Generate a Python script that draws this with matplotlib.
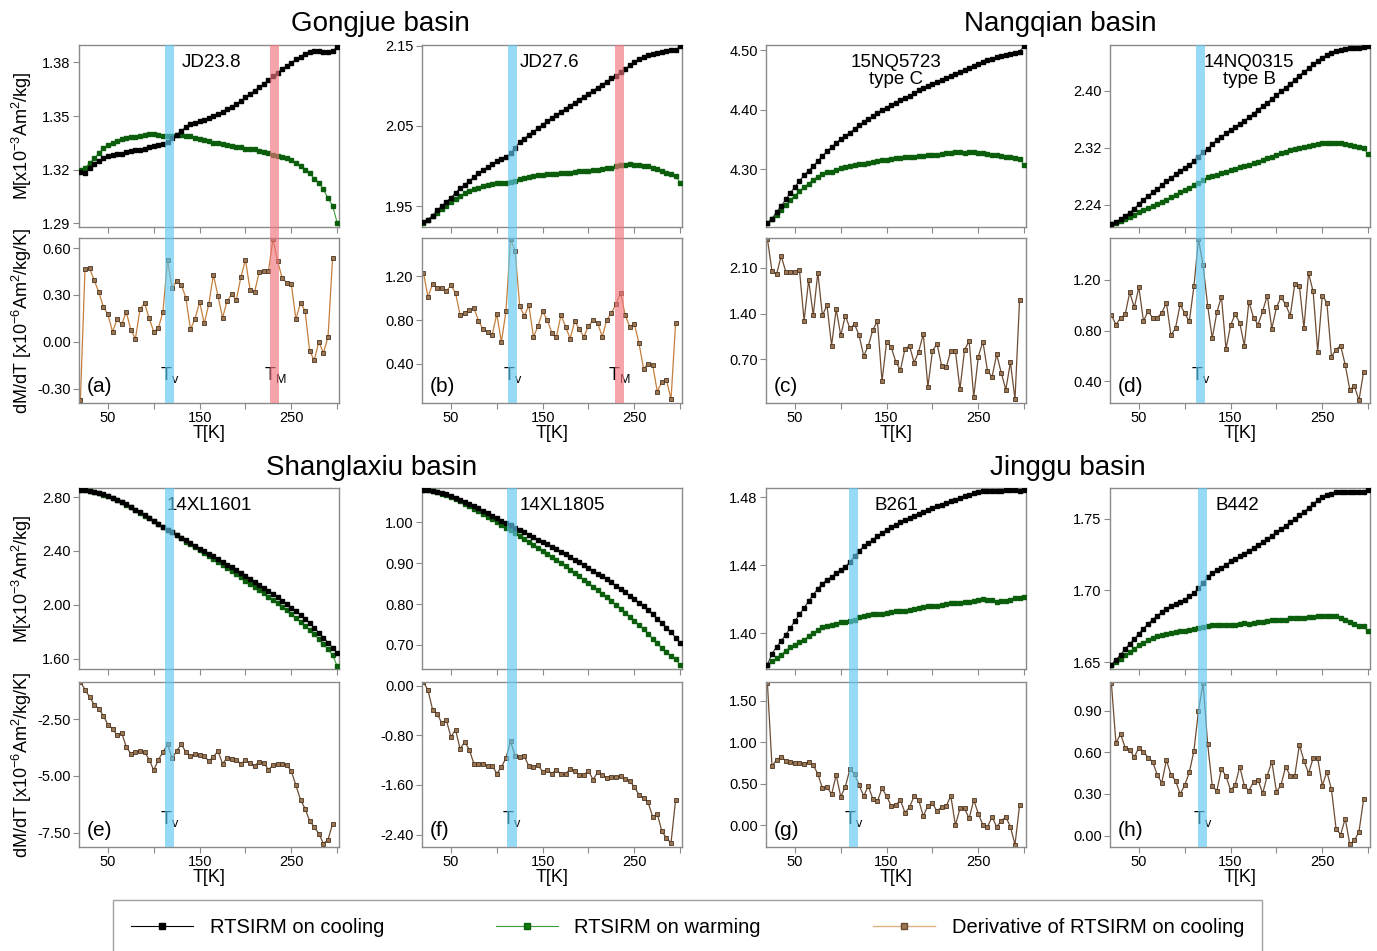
import numpy as np
import matplotlib
matplotlib.use('Agg')
import matplotlib.pyplot as plt
from matplotlib.lines import Line2D
from matplotlib.patches import Rectangle
from matplotlib import transforms
from matplotlib.ticker import FormatStrFormatter

plt.rcParams['font.family'] = ['Liberation Sans', 'DejaVu Sans']
plt.rcParams['mathtext.fontset'] = 'custom'
plt.rcParams['mathtext.rm'] = 'Liberation Sans'
plt.rcParams['mathtext.it'] = 'Liberation Sans:italic'

# temperature grids (K)
T = np.arange(20, 301, 5)
T_d = np.arange(20, 296, 5)

# ---- Gongjue basin ----
jd238_cool = [1.3190, 1.3180, 1.3207, 1.3230, 1.3250, 1.3265, 1.3278, 1.3282, 1.3286, 1.3290,
              1.3298, 1.3304, 1.3310, 1.3312, 1.3317, 1.3325, 1.3333, 1.3338, 1.3343, 1.3353,
              1.3375, 1.3395, 1.3415, 1.3440, 1.3453, 1.3462, 1.3470, 1.3478, 1.3487, 1.3498,
              1.3510, 1.3523, 1.3537, 1.3551, 1.3567, 1.3585, 1.3604, 1.3623, 1.3642, 1.3660,
              1.3679, 1.3700, 1.3722, 1.3742, 1.3761, 1.3780, 1.3798, 1.3816, 1.3832, 1.3848,
              1.3860, 1.3864, 1.3862, 1.3858, 1.3857, 1.3862, 1.3888]
jd238_warm = [1.3198, 1.3211, 1.3235, 1.3263, 1.3291, 1.3319, 1.3336, 1.3351, 1.3362, 1.3371,
              1.3379, 1.3381, 1.3384, 1.3388, 1.3394, 1.3397, 1.3397, 1.3394, 1.3390, 1.3386,
              1.3390, 1.3394, 1.3392, 1.3390, 1.3386, 1.3379, 1.3371, 1.3366, 1.3362, 1.3351,
              1.3347, 1.3343, 1.3340, 1.3332, 1.3329, 1.3325, 1.3316, 1.3316, 1.3314, 1.3306,
              1.3297, 1.3291, 1.3284, 1.3278, 1.3273, 1.3263, 1.3254, 1.3239, 1.3222, 1.3198,
              1.3179, 1.3151, 1.3127, 1.3090, 1.3040, 1.2999, 1.2904]
jd238_dmdt = [-0.370, 0.465, 0.470, 0.394, 0.319, 0.223, 0.176, 0.064, 0.144, 0.111,
              0.191, 0.075, 0.021, 0.208, 0.246, 0.150, 0.064, 0.088, 0.191, 0.523,
              0.343, 0.392, 0.362, 0.283, 0.079, 0.148, 0.255, 0.118, 0.240, 0.429,
              0.294, 0.154, 0.261, 0.304, 0.268, 0.414, 0.525, 0.332, 0.321, 0.446,
              0.450, 0.450, 0.658, 0.519, 0.407, 0.379, 0.369, 0.144, 0.251, 0.197,
              -0.060, -0.118, 0.000, -0.071, 0.030, 0.536]

jd276_cool = [1.9300, 1.9333, 1.9383, 1.9446, 1.9500, 1.9554, 1.9604, 1.9667, 1.9721, 1.9763,
              1.9813, 1.9863, 1.9908, 1.9950, 1.9988, 2.0021, 2.0058, 2.0083, 2.0117, 2.0158,
              2.0229, 2.0300, 2.0342, 2.0388, 2.0429, 2.0471, 2.0517, 2.0558, 2.0596, 2.0638,
              2.0675, 2.0717, 2.0754, 2.0792, 2.0829, 2.0867, 2.0904, 2.0942, 2.0979, 2.1017,
              2.1054, 2.1092, 2.1125, 2.1167, 2.1208, 2.1258, 2.1300, 2.1333, 2.1363, 2.1383,
              2.1396, 2.1408, 2.1417, 2.1429, 2.1446, 2.1450, 2.1492]
jd276_warm = [1.9292, 1.9333, 1.9375, 1.9417, 1.9467, 1.9508, 1.9554, 1.9592, 1.9625, 1.9658,
              1.9688, 1.9708, 1.9729, 1.9750, 1.9763, 1.9775, 1.9783, 1.9792, 1.9792, 1.9800,
              1.9817, 1.9833, 1.9854, 1.9867, 1.9875, 1.9883, 1.9892, 1.9896, 1.9900, 1.9904,
              1.9908, 1.9913, 1.9917, 1.9925, 1.9933, 1.9938, 1.9942, 1.9950, 1.9954, 1.9963,
              1.9971, 1.9979, 1.9996, 2.0008, 2.0017, 2.0021, 2.0013, 2.0008, 2.0004, 1.9996,
              1.9979, 1.9958, 1.9933, 1.9917, 1.9896, 1.9875, 1.9792]
jd276_dmdt = [1.234, 1.011, 1.132, 1.095, 1.098, 1.067, 1.117, 1.049, 0.845, 0.869,
              0.888, 0.910, 0.795, 0.715, 0.693, 0.663, 0.857, 0.598, 0.879, 1.543,
              1.432, 0.925, 0.839, 0.934, 0.644, 0.746, 0.879, 0.802, 0.684, 0.647,
              0.845, 0.740, 0.629, 0.789, 0.715, 0.647, 0.746, 0.798, 0.771, 0.647,
              0.802, 0.863, 0.947, 1.049, 0.845, 0.740, 0.764, 0.592, 0.354, 0.400,
              0.388, 0.144, 0.236, 0.252, 0.073, 0.774]

# ---- Nangqian basin ----
nq5723_cool = [4.2096, 4.2169, 4.2281, 4.2376, 4.2494, 4.2601, 4.2702, 4.2803, 4.2899, 4.2978,
               4.3051, 4.3140, 4.3225, 4.3303, 4.3371, 4.3438, 4.3511, 4.3562, 4.3612, 4.3680,
               4.3736, 4.3787, 4.3837, 4.3893, 4.3949, 4.4000, 4.4034, 4.4079, 4.4118, 4.4157,
               4.4191, 4.4230, 4.4275, 4.4326, 4.4371, 4.4399, 4.4438, 4.4472, 4.4506, 4.4539,
               4.4567, 4.4601, 4.4635, 4.4669, 4.4702, 4.4736, 4.4764, 4.4803, 4.4831, 4.4860,
               4.4882, 4.4904, 4.4921, 4.4938, 4.4961, 4.4978, 4.5073]
nq5723_warm = [4.2096, 4.2163, 4.2236, 4.2320, 4.2393, 4.2478, 4.2556, 4.2629, 4.2697, 4.2758,
               4.2826, 4.2871, 4.2916, 4.2949, 4.2961, 4.2983, 4.3028, 4.3045, 4.3062, 4.3079,
               4.3096, 4.3096, 4.3107, 4.3124, 4.3140, 4.3152, 4.3163, 4.3174, 4.3185, 4.3197,
               4.3208, 4.3208, 4.3213, 4.3219, 4.3230, 4.3242, 4.3242, 4.3247, 4.3258, 4.3270,
               4.3281, 4.3292, 4.3292, 4.3275, 4.3292, 4.3287, 4.3270, 4.3270, 4.3264, 4.3247,
               4.3236, 4.3219, 4.3208, 4.3213, 4.3191, 4.3174, 4.3073]
nq5723_dmdt = [2.543, 2.054, 2.002, 2.285, 2.043, 2.043, 2.043, 2.064, 1.292, 1.915,
               1.374, 2.028, 1.374, 1.529, 0.911, 1.472, 1.066, 1.369, 1.174, 1.240,
               1.066, 0.752, 0.906, 1.153, 1.282, 0.366, 0.968, 0.885, 0.664, 0.535,
               0.860, 0.906, 0.649, 0.818, 1.091, 0.278, 0.829, 0.937, 0.602, 0.577,
               0.834, 0.829, 0.242, 0.844, 0.983, 0.124, 0.741, 0.973, 0.520, 0.432,
               0.777, 0.494, 0.237, 0.654, 0.088, 1.616]

nq0315_cool = [2.2122, 2.2155, 2.2192, 2.2240, 2.2287, 2.2343, 2.2405, 2.2466, 2.2523, 2.2570,
               2.2617, 2.2674, 2.2726, 2.2773, 2.2825, 2.2877, 2.2914, 2.2962, 2.3009, 2.3075,
               2.3141, 2.3183, 2.3250, 2.3306, 2.3353, 2.3401, 2.3453, 2.3490, 2.3533, 2.3580,
               2.3627, 2.3679, 2.3736, 2.3783, 2.3830, 2.3887, 2.3939, 2.3995, 2.4047, 2.4099,
               2.4156, 2.4217, 2.4269, 2.4321, 2.4373, 2.4420, 2.4467, 2.4505, 2.4538, 2.4562,
               2.4581, 2.4590, 2.4600, 2.4604, 2.4609, 2.4614, 2.4632]
nq0315_warm = [2.2122, 2.2145, 2.2173, 2.2202, 2.2225, 2.2258, 2.2291, 2.2320, 2.2353, 2.2381,
               2.2409, 2.2438, 2.2471, 2.2504, 2.2537, 2.2570, 2.2603, 2.2636, 2.2669, 2.2707,
               2.2745, 2.2782, 2.2801, 2.2820, 2.2839, 2.2858, 2.2881, 2.2900, 2.2924, 2.2943,
               2.2962, 2.2981, 2.3004, 2.3028, 2.3051, 2.3075, 2.3103, 2.3122, 2.3146, 2.3169,
               2.3188, 2.3202, 2.3212, 2.3231, 2.3240, 2.3254, 2.3268, 2.3273, 2.3273, 2.3273,
               2.3268, 2.3254, 2.3240, 2.3226, 2.3217, 2.3193, 2.3113]
nq0315_dmdt = [0.921, 0.847, 0.897, 0.926, 1.099, 0.982, 1.139, 0.873, 0.953, 0.900,
               0.900, 0.940, 1.019, 0.761, 0.820, 1.006, 0.934, 0.873, 1.147, 1.519,
               1.312, 0.995, 0.740, 0.942, 1.067, 0.655, 0.841, 0.929, 0.860, 0.682,
               1.027, 0.900, 0.847, 0.953, 1.075, 0.815, 0.982, 1.062, 1.006, 0.916,
               1.165, 1.152, 0.820, 1.253, 1.107, 0.634, 1.075, 1.019, 0.594, 0.650,
               0.682, 0.530, 0.336, 0.363, 0.251, 0.474]

# ---- Shanglaxiu basin ----
xl1601_cool = [2.855, 2.852, 2.847, 2.840, 2.830, 2.820, 2.807, 2.793, 2.778, 2.763,
               2.745, 2.728, 2.706, 2.686, 2.666, 2.646, 2.624, 2.602, 2.579, 2.559,
               2.540, 2.517, 2.498, 2.478, 2.458, 2.438, 2.418, 2.398, 2.379, 2.359,
               2.339, 2.319, 2.299, 2.279, 2.259, 2.237, 2.217, 2.195, 2.173, 2.150,
               2.128, 2.106, 2.081, 2.056, 2.031, 2.007, 1.979, 1.952, 1.922, 1.893,
               1.863, 1.828, 1.793, 1.756, 1.719, 1.682, 1.640]
xl1601_warm = [2.855, 2.852, 2.847, 2.840, 2.830, 2.819, 2.805, 2.791, 2.776, 2.760,
               2.742, 2.725, 2.703, 2.683, 2.663, 2.643, 2.621, 2.599, 2.576, 2.556,
               2.537, 2.515, 2.493, 2.470, 2.450, 2.428, 2.406, 2.383, 2.361, 2.339,
               2.317, 2.294, 2.272, 2.250, 2.228, 2.205, 2.180, 2.158, 2.133, 2.111,
               2.086, 2.061, 2.036, 2.012, 1.987, 1.959, 1.932, 1.905, 1.875, 1.845,
               1.813, 1.781, 1.746, 1.709, 1.669, 1.627, 1.545]
xl1601_dmdt = [-0.853, -1.190, -1.515, -1.853, -2.030, -2.338, -2.735, -2.912, -3.206, -3.088,
               -3.720, -4.015, -3.941, -3.912, -3.941, -4.279, -4.750, -4.279, -3.956, -3.603,
               -4.206, -3.897, -3.603, -3.941, -4.132, -4.044, -4.088, -4.132, -4.338, -4.162,
               -3.897, -4.456, -4.206, -4.235, -4.309, -4.456, -4.309, -4.426, -4.559, -4.368,
               -4.426, -4.721, -4.529, -4.456, -4.485, -4.500, -4.794, -5.412, -6.044, -6.441,
               -6.985, -7.250, -7.544, -7.985, -7.809, -7.103]

xl1805_cool = [1.0800, 1.0790, 1.0774, 1.0750, 1.0717, 1.0685, 1.0644, 1.0603, 1.0554, 1.0505,
               1.0456, 1.0399, 1.0342, 1.0285, 1.0228, 1.0163, 1.0098, 1.0041, 0.9984, 0.9927,
               0.9870, 0.9813, 0.9756, 0.9698, 0.9641, 0.9576, 0.9519, 0.9462, 0.9405, 0.9340,
               0.9283, 0.9218, 0.9153, 0.9087, 0.9022, 0.8957, 0.8883, 0.8818, 0.8745, 0.8680,
               0.8606, 0.8533, 0.8451, 0.8370, 0.8289, 0.8207, 0.8126, 0.8036, 0.7946, 0.7848,
               0.7751, 0.7645, 0.7539, 0.7425, 0.7310, 0.7181, 0.7050]
xl1805_warm = [1.0800, 1.0790, 1.0766, 1.0742, 1.0701, 1.0660, 1.0611, 1.0562, 1.0513, 1.0456,
               1.0399, 1.0334, 1.0269, 1.0204, 1.0139, 1.0073, 1.0000, 0.9935, 0.9870, 0.9804,
               0.9739, 0.9674, 0.9601, 0.9527, 0.9454, 0.9381, 0.9307, 0.9234, 0.9161, 0.9079,
               0.9006, 0.8924, 0.8843, 0.8761, 0.8680, 0.8598, 0.8517, 0.8427, 0.8346, 0.8256,
               0.8166, 0.8077, 0.7979, 0.7890, 0.7791, 0.7694, 0.7596, 0.7490, 0.7384, 0.7270,
               0.7156, 0.7035, 0.6920, 0.6820, 0.6730, 0.6650, 0.6504]
xl1805_dmdt = [0.059, -0.075, -0.387, -0.456, -0.601, -0.558, -0.827, -0.709, -1.020, -0.907,
               -1.031, -1.256, -1.256, -1.256, -1.299, -1.289, -1.417, -1.315, -1.165, -0.897,
               -1.128, -1.154, -1.138, -1.299, -1.310, -1.283, -1.385, -1.353, -1.417, -1.353,
               -1.428, -1.423, -1.342, -1.374, -1.434, -1.434, -1.374, -1.514, -1.396, -1.434,
               -1.487, -1.471, -1.471, -1.460, -1.498, -1.536, -1.632, -1.756, -1.810, -1.879,
               -2.115, -2.067, -2.346, -2.454, -2.534, -1.836]

# ---- Jinggu basin ----
b261_cool = [1.3814, 1.3878, 1.3918, 1.3953, 1.3990, 1.4029, 1.4071, 1.4110, 1.4147, 1.4188,
             1.4225, 1.4261, 1.4290, 1.4314, 1.4331, 1.4351, 1.4373, 1.4390, 1.4418, 1.4451,
             1.4484, 1.4510, 1.4529, 1.4549, 1.4569, 1.4588, 1.4608, 1.4622, 1.4637, 1.4651,
             1.4663, 1.4676, 1.4690, 1.4700, 1.4710, 1.4722, 1.4733, 1.4745, 1.4755, 1.4765,
             1.4776, 1.4784, 1.4792, 1.4804, 1.4814, 1.4824, 1.4831, 1.4833, 1.4833, 1.4833,
             1.4835, 1.4837, 1.4839, 1.4843, 1.4843, 1.4833, 1.4843]
b261_warm = [1.3814, 1.3833, 1.3853, 1.3873, 1.3896, 1.3916, 1.3931, 1.3947, 1.3961, 1.3980,
             1.4000, 1.4016, 1.4033, 1.4043, 1.4049, 1.4055, 1.4063, 1.4063, 1.4069, 1.4078,
             1.4092, 1.4102, 1.4106, 1.4110, 1.4114, 1.4112, 1.4118, 1.4124, 1.4127, 1.4129,
             1.4131, 1.4133, 1.4141, 1.4147, 1.4153, 1.4157, 1.4161, 1.4161, 1.4163, 1.4173,
             1.4175, 1.4176, 1.4178, 1.4180, 1.4184, 1.4188, 1.4192, 1.4198, 1.4196, 1.4192,
             1.4184, 1.4190, 1.4190, 1.4196, 1.4204, 1.4208, 1.4212]
b261_dmdt = [1.714, 0.714, 0.786, 0.827, 0.778, 0.766, 0.746, 0.754, 0.738, 0.758,
             0.726, 0.617, 0.444, 0.464, 0.371, 0.605, 0.343, 0.464, 0.677, 0.617,
             0.484, 0.351, 0.472, 0.315, 0.290, 0.444, 0.351, 0.230, 0.242, 0.302,
             0.153, 0.214, 0.355, 0.302, 0.109, 0.234, 0.262, 0.169, 0.222, 0.230,
             0.355, 0.000, 0.202, 0.202, 0.081, 0.302, 0.141, 0.000, -0.020, 0.101,
             -0.020, 0.052, 0.101, -0.020, -0.234, 0.242]

b442_cool = [1.6481, 1.6516, 1.6551, 1.6591, 1.6628, 1.6660, 1.6698, 1.6733, 1.6767, 1.6795,
             1.6823, 1.6847, 1.6870, 1.6888, 1.6907, 1.6921, 1.6935, 1.6958, 1.6981, 1.7016,
             1.7051, 1.7093, 1.7121, 1.7140, 1.7158, 1.7179, 1.7202, 1.7219, 1.7237, 1.7256,
             1.7277, 1.7295, 1.7316, 1.7337, 1.7358, 1.7381, 1.7405, 1.7428, 1.7451, 1.7474,
             1.7498, 1.7523, 1.7549, 1.7574, 1.7602, 1.7628, 1.7651, 1.7665, 1.7674, 1.7684,
             1.7686, 1.7686, 1.7688, 1.7688, 1.7686, 1.7688, 1.7702]
b442_warm = [1.6477, 1.6498, 1.6523, 1.6547, 1.6570, 1.6593, 1.6616, 1.6635, 1.6653, 1.6667,
             1.6679, 1.6688, 1.6698, 1.6705, 1.6712, 1.6714, 1.6719, 1.6726, 1.6733, 1.6740,
             1.6744, 1.6749, 1.6756, 1.6756, 1.6756, 1.6758, 1.6760, 1.6760, 1.6767, 1.6772,
             1.6767, 1.6772, 1.6777, 1.6779, 1.6784, 1.6791, 1.6795, 1.6795, 1.6795, 1.6805,
             1.6807, 1.6805, 1.6809, 1.6814, 1.6814, 1.6819, 1.6823, 1.6823, 1.6823, 1.6823,
             1.6807, 1.6791, 1.6777, 1.6765, 1.6753, 1.6749, 1.6714]
b442_dmdt = [1.100, 0.666, 0.733, 0.635, 0.618, 0.565, 0.635, 0.606, 0.562, 0.533,
             0.437, 0.381, 0.545, 0.437, 0.396, 0.300, 0.364, 0.456, 0.610, 0.900,
             1.100, 0.659, 0.359, 0.321, 0.480, 0.429, 0.328, 0.364, 0.497, 0.359,
             0.323, 0.388, 0.400, 0.304, 0.432, 0.533, 0.316, 0.364, 0.497, 0.432,
             0.432, 0.654, 0.540, 0.449, 0.557, 0.557, 0.359, 0.461, 0.333, 0.051,
             0.007, 0.123, -0.063, -0.034, 0.027, 0.261]

# Verwey (blue) and Morin (red) transition bands, K
BLUE = '#5ec7f0'
RED = '#f0737b'

panels = [
    dict(name='JD23.8', cool=jd238_cool, warm=jd238_warm, dmdt=jd238_dmdt, letter='(a)',
         mlim=(1.288, 1.3897), mticks=[1.29, 1.32, 1.35, 1.38],
         dlim=(-0.392, 0.664), dticks=[-0.3, 0.0, 0.3, 0.6],
         bands=[(112.5, 122.5, BLUE, 'v'), (227, 237, RED, 'M')], dcol='#c47f3c', tx=0.51),
    dict(name='JD27.6', cool=jd276_cool, warm=jd276_warm, dmdt=jd276_dmdt, letter='(b)',
         mlim=(1.924, 2.151), mticks=[1.95, 2.05, 2.15],
         dlim=(0.039, 1.552), dticks=[0.4, 0.8, 1.2],
         bands=[(112, 122, BLUE, 'v'), (229, 239, RED, 'M')], dcol='#c47f3c', tx=0.49),
    dict(name='15NQ5723\ntype C', cool=nq5723_cool, warm=nq5723_warm, dmdt=nq5723_dmdt,
         letter='(c)', mlim=(4.2028, 4.509), mticks=[4.30, 4.40, 4.50],
         dlim=(0.031, 2.558), dticks=[0.7, 1.4, 2.1],
         bands=[], dcol='#6e4c32', tx=0.50),
    dict(name='14NQ0315\ntype B', cool=nq0315_cool, warm=nq0315_warm, dmdt=nq0315_dmdt,
         letter='(d)', mlim=(2.2084, 2.4647), mticks=[2.24, 2.32, 2.40],
         dlim=(0.23, 1.527), dticks=[0.4, 0.8, 1.2],
         bands=[(112, 122, BLUE, 'v')], dcol='#6e4c32', tx=0.535),
    dict(name='14XL1601', cool=xl1601_cool, warm=xl1601_warm, dmdt=xl1601_dmdt, letter='(e)',
         mlim=(1.523, 2.867), mticks=[1.6, 2.0, 2.4, 2.8],
         dlim=(-8.13, -0.853), dticks=[-7.5, -5.0, -2.5],
         bands=[(112, 122, BLUE, 'v')], dcol='#6e4c32', tx=0.50),
    dict(name='14XL1805', cool=xl1805_cool, warm=xl1805_warm, dmdt=xl1805_dmdt, letter='(f)',
         mlim=(0.641, 1.084), mticks=[0.7, 0.8, 0.9, 1.0],
         dlim=(-2.599, 0.059), dticks=[-2.4, -1.6, -0.8, 0.0],
         bands=[(111.5, 121.5, BLUE, 'v')], dcol='#6e4c32', tx=0.54),
    dict(name='B261', cool=b261_cool, warm=b261_warm, dmdt=b261_dmdt, letter='(g)',
         mlim=(1.3788, 1.4853), mticks=[1.40, 1.44, 1.48],
         dlim=(-0.262, 1.726), dticks=[0.0, 0.5, 1.0, 1.5],
         bands=[(109, 119, BLUE, 'v')], dcol='#6e4c32', tx=0.50),
    dict(name='B442', cool=b442_cool, warm=b442_warm, dmdt=b442_dmdt, letter='(h)',
         mlim=(1.6451, 1.7714), mticks=[1.65, 1.70, 1.75],
         dlim=(-0.082, 1.1075), dticks=[0.0, 0.3, 0.6, 0.9],
         bands=[(114, 124.5, BLUE, 'v')], dcol='#6e4c32', tx=0.49),
]

basins = [('Gongjue basin', 0.276, 0.975), ('Nangqian basin', 0.770, 0.975),
          ('Shanglaxiu basin', 0.270, 0.508), ('Jinggu basin', 0.7756, 0.508)]

fig = plt.figure(figsize=(13.77, 9.51), dpi=100)

col_x = [0.0574, 0.3065, 0.5563, 0.8061]
W = 0.1888
rows = [((0.7613, 0.1914), (0.5762, 0.1735)), ((0.2965, 0.1903), (0.1094, 0.1735))]
SPINE = '#8a8a8a'


def style(ax):
    for s in ax.spines.values():
        s.set_color(SPINE)
        s.set_linewidth(1.0)
    ax.tick_params(direction='out', length=4, width=0.8, color=SPINE,
                   labelsize=10.5, pad=2, right=False, top=False)
    ax.set_xlim(18.5, 302)
    ax.set_xticks([50, 100, 150, 200, 250, 300])


for i, p in enumerate(panels):
    r, c = divmod(i, 4)
    (mb, mh), (db, dh) = rows[r]
    axm = fig.add_axes([col_x[c], mb, W, mh])
    axd = fig.add_axes([col_x[c], db, W, dh])
    style(axm)
    style(axd)

    axm.plot(T, p['warm'], color='#3a9a3a', lw=0.8, marker='s', ms=2.7,
             mfc='#0b5e0b', mec='#0b5e0b', zorder=3)
    axm.plot(T, p['cool'], color='#303030', lw=0.8, marker='s', ms=2.7,
             mfc='black', mec='black', zorder=4)
    axm.set_ylim(*p['mlim'])
    axm.set_yticks(p['mticks'])
    axm.yaxis.set_major_formatter(FormatStrFormatter('%.2f'))
    axm.set_xticklabels([])
    axm.text(p['tx'], 0.95, p['name'], transform=axm.transAxes, ha='center', va='top',
             fontsize=13.5, linespacing=1.0)

    axd.plot(T_d, p['dmdt'], color=p['dcol'], lw=0.9, marker='s', ms=2.6,
             mfc='#9a7652', mec='#4a3322', mew=0.6)
    axd.set_ylim(*p['dlim'])
    axd.set_yticks(p['dticks'])
    axd.yaxis.set_major_formatter(FormatStrFormatter('%.2f'))
    axd.set_xticklabels(['50', '', '150', '', '250', ''])
    axd.set_xlabel('T[K]', fontsize=13, labelpad=0)
    axd.text(0.03, 0.04, p['letter'], transform=axd.transAxes, ha='left', va='bottom',
             fontsize=15)

    if c == 0:
        axm.set_ylabel('M[x10$^{-3}$Am$^{2}$/kg]', fontsize=13, labelpad=6)
        axd.set_ylabel('dM/dT [x10$^{-6}$Am$^{2}$/kg/K]', fontsize=13, labelpad=2)

    # transition bands run through both panels
    tr = transforms.blended_transform_factory(axd.transData, fig.transFigure)
    y0 = db
    y1 = mb + mh
    for lo, hi, col, sub in p['bands']:
        fig.add_artist(Rectangle((lo, y0), hi - lo, y1 - y0, transform=tr,
                                 facecolor=col, edgecolor='none', alpha=0.65, zorder=5))
        axd.text((lo + hi) / 2, 0.17, r'T$_{\mathrm{%s}}$' % sub,
                 transform=axd.get_xaxis_transform(), ha='center', va='center',
                 fontsize=13, zorder=6)

for title, x, y in basins:
    fig.text(x, y, title, ha='center', va='center', fontsize=20)

handles = [
    Line2D([], [], color='black', lw=0.8, marker='s', ms=5, mfc='black', mec='black'),
    Line2D([], [], color='#3a9a3a', lw=0.8, marker='s', ms=5, mfc='#0b7a0b', mec='#0b5e0b'),
    Line2D([], [], color='#e0b080', lw=1.0, marker='s', ms=5, mfc='#9a7652', mec='#6a4a30'),
]
labels = ['RTSIRM on cooling', 'RTSIRM on warming', 'Derivative of RTSIRM on cooling']
leg = fig.legend(handles, labels, ncol=3, loc='lower left',
                 bbox_to_anchor=(0.082, -0.004, 0.8345, 0.061), mode='expand',
                 frameon=True, fancybox=False, edgecolor=SPINE, fontsize=14.5,
                 handlelength=3.1, handletextpad=0.8, borderaxespad=0.0,
                 borderpad=0.9, columnspacing=2.0)
leg.get_frame().set_linewidth(1.0)

fig.savefig('out.png', dpi=100)
